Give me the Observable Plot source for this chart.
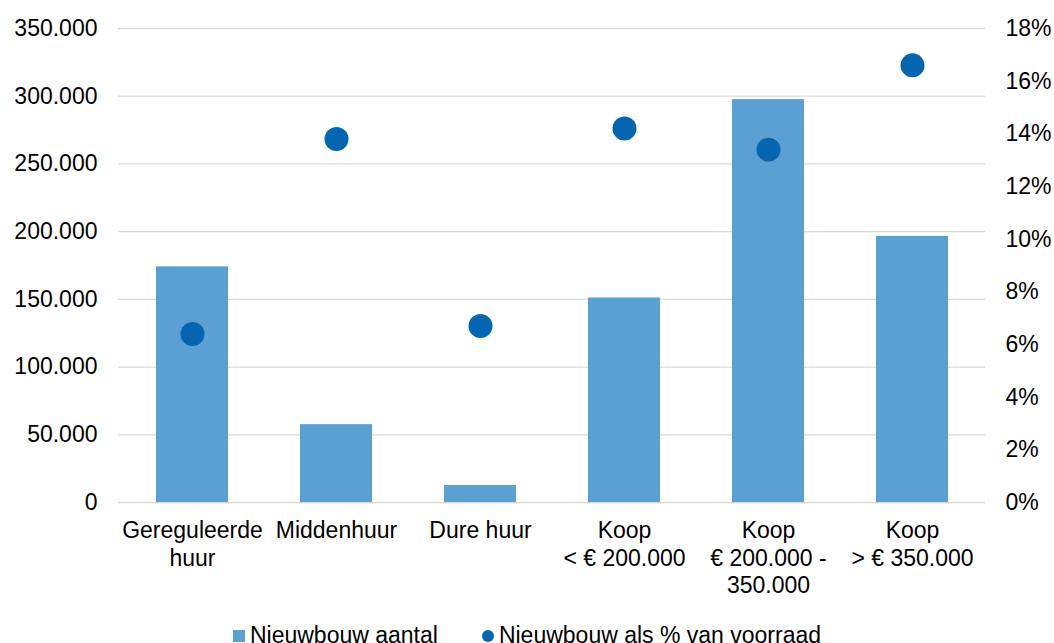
<!DOCTYPE html>
<html>
<head>
<meta charset="utf-8">
<script src="https://cdn.jsdelivr.net/npm/d3@7"></script>
<script src="https://cdn.jsdelivr.net/npm/@observablehq/plot@0.6"></script>
<style>
  body { margin: 0; background: #fff; font-family: "Liberation Sans", Arial, sans-serif; }
  #legend { display: flex; justify-content: center; gap: 44px; font-size: 23px; color: #000; height: 31px; align-items: center; margin-top: 8px; white-space: nowrap; }
  .item { display: flex; align-items: center; gap: 5px; }
  .sq { width: 12px; height: 12px; background: #5BA0D3; display: inline-block; }
  .dot { width: 12px; height: 12px; background: #0565B0; border-radius: 50%; display: inline-block; }
</style>
</head>
<body>
<div id="chart"></div>
<div id="legend">
  <span class="item"><span class="sq"></span>Nieuwbouw aantal</span>
  <span class="item"><span class="dot"></span>Nieuwbouw als % van voorraad</span>
</div>
<script>
const categories = ["Gereguleerde\nhuur", "Middenhuur", "Dure huur", "Koop\n< € 200.000", "Koop\n€ 200.000 -\n350.000", "Koop\n> € 350.000"];
const aantal = [174000, 57500, 12500, 151000, 297500, 196500];
const pct = [6.4, 13.8, 6.7, 14.2, 13.4, 16.6];
const leftTicks = [0, 50000, 100000, 150000, 200000, 250000, 300000, 350000];
const rightTicks = [0, 2, 4, 6, 8, 10, 12, 14, 16, 18];

const leftMax = 350000, rightMax = 18;
const toLeft = p => p * leftMax / rightMax;

const data = categories.map((c, i) => ({cat: c, aantal: aantal[i], pct: pct[i]}));
const fmt = d => d3.format(",")(d).replace(/,/g, ".");

const W = 1054, H = 612;
const chart = Plot.plot({
  width: W, height: H,
  marginLeft: 118, marginRight: 69, marginTop: 28, marginBottom: H - 502,
  style: {fontFamily: "'Liberation Sans', Arial, sans-serif", fontSize: "23px", color: "#000"},
  x: {domain: categories, paddingInner: 0.5, paddingOuter: 0.25, label: null},
  y: {domain: [0, leftMax], label: null},
  marks: [
    Plot.ruleY(leftTicks, {stroke: "#d9d9d9", strokeWidth: 1.3}),
    Plot.barY(data, {x: "cat", y: "aantal", fill: "#5BA0D3"}),
    Plot.dot(data, {x: "cat", y: d => toLeft(d.pct), r: 12, fill: "#0565B0"}),
    Plot.axisY(leftTicks, {anchor: "left", tickSize: 0, tickPadding: 21, tickFormat: fmt, label: null, fontSize: 23}),
    Plot.axisY(rightTicks.map(toLeft), {anchor: "right", tickSize: 0, tickPadding: 20, tickFormat: v => Math.round(v * rightMax / leftMax) + "%", label: null, textAnchor: "start", fontSize: 23}),
    Plot.axisX({anchor: "bottom", tickSize: 0, tickPadding: 16, label: null, fontSize: 23, lineHeight: 1.2})
  ]
});
document.getElementById("chart").appendChild(chart);
</script>
</body>
</html>
